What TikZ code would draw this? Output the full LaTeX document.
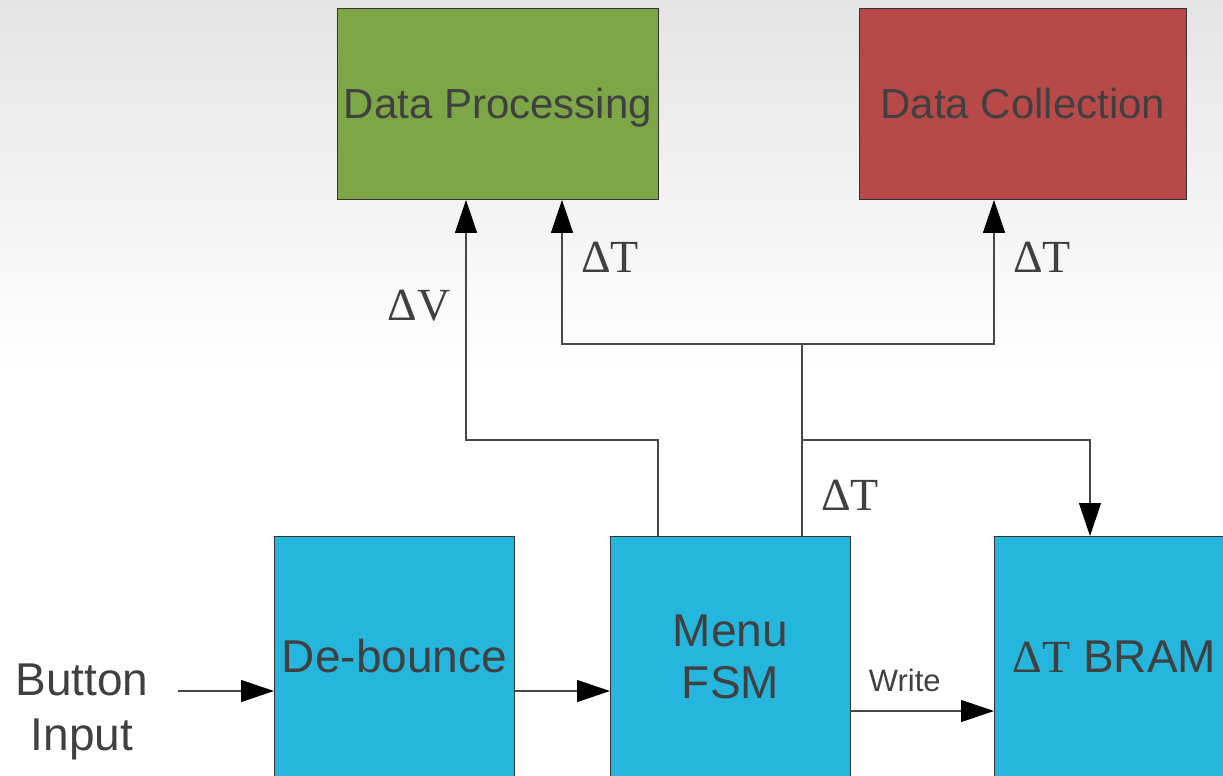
\documentclass[tikz,border=0pt]{standalone}
\usepackage{fontspec}
\setmainfont{Liberation Sans}
\newfontfamily\deltafont{Liberation Serif}
\usetikzlibrary{arrows.meta}
\definecolor{txtgray}{HTML}{404040}
\definecolor{linegray}{HTML}{474747}
\definecolor{procgreen}{HTML}{7DA646}
\definecolor{collred}{HTML}{B84949}
\definecolor{blockcyan}{HTML}{24B6DC}
\definecolor{bgtop}{HTML}{E4E4E4}
\tikzset{
  block/.style={draw=black!80, line width=0.9pt, inner sep=0pt, anchor=north west,
    text=txtgray, align=center},
  bigblock/.style={block, minimum width=240pt, minimum height=240pt,
    fill=blockcyan, font=\fontsize{46}{52}\selectfont},
  topblock/.style={block, minimum height=191pt, text height=30pt, text depth=0pt,
    font=\fontsize{42}{48}\selectfont},
  wire/.style={draw=linegray, line width=1.1pt},
  arr/.style={wire, -{Triangle[length=33pt,width=22pt,color=black,fill=black]}},
  dlabel/.style={text=txtgray, font=\deltafont\fontsize{46}{52}\selectfont, inner sep=0pt},
  plainlabel/.style={text=txtgray, align=center, inner sep=0pt}
}
\begin{document}
\begin{tikzpicture}[x=1pt, y=-1pt]
  \useasboundingbox (0,0) rectangle (1223,776);
  \clip (0,0) rectangle (1223,776);
  % background
  \fill[white] (0,0) rectangle (1223,776);
  \shade[top color=bgtop, bottom color=white] (0,0) rectangle (1223,372);

  % upper blocks
  \node[topblock, fill=procgreen, minimum width=321pt] (dp) at (337,8) {Data Processing};
  \node[topblock, fill=collred, minimum width=327pt] (dc) at (859,8) {Data Collection};

  % lower blocks
  \node[bigblock] (db) at (274,536) {De-bounce};
  \node[bigblock] (menu) at (610,536) {Menu\\FSM};
  \node[bigblock] (bram) at (994,536) {{\deltafont ΔT} BRAM};

  % input label
  \node[plainlabel, font=\fontsize{46}{55}\selectfont] (btn) at (82,712) {Button\\Input};

  % routing points
  \coordinate (bin) at (178,691);
  \coordinate (wy) at (850,711);
  \coordinate (vb) at (658,440);
  \coordinate (vu) at (466,440);
  \coordinate (tj) at (802,344);
  \coordinate (tl) at (562,344);
  \coordinate (tr) at (994,344);
  \coordinate (tb) at (802,440);
  \coordinate (tbr) at (1090,440);

  % horizontal data flow
  \draw[arr] (bin) -- (bin -| db.west);
  \draw[arr] (db.east |- bin) -- (menu.west |- bin);
  \draw[arr] (wy) -- (wy -| bram.west)
    node[pos=0.38, above=19pt, plainlabel, font=\fontsize{31}{36}\selectfont] (wr) {Write};

  % voltage path
  \draw[arr] (vb |- menu.north) -- (vb) -- (vu) -- (vu |- dp.south);

  % time paths
  \draw[wire] (tj |- menu.north) -- (tj);
  \draw[arr] (tj) -- (tl) -- (tl |- dp.south);
  \draw[arr] (tj) -- (tr) -- (tr |- dc.south);
  \draw[arr] (tb) -- (tbr) -- (tbr |- bram.north);

  % signal labels
  \node[dlabel] (lv) at (419,306) {ΔV};
  \node[dlabel] (lt1) at (610,257) {ΔT};
  \node[dlabel] (lt2) at (1042,257) {ΔT};
  \node[dlabel] (lt3) at (850,495) {ΔT};
\end{tikzpicture}
\end{document}
